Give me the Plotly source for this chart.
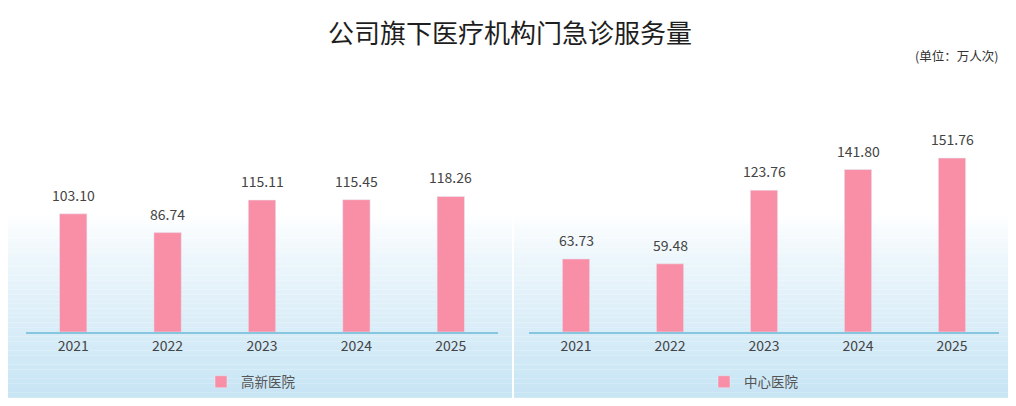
import plotly.graph_objects as go

# figure is drawn inside the page's 8px body margin
W, H = 1000, 390
OFF = 8

years = ['2021', '2022', '2023', '2024', '2025']
gaoxin = [103.10, 86.74, 115.11, 115.45, 118.26]
zhongxin = [63.73, 59.48, 123.76, 141.80, 151.76]

title = '公司旗下医疗机构门急诊服务量'
unit = '(单位：万人次)'

FONT = 'Noto Sans CJK SC, Microsoft YaHei, sans-serif'
BAR = '#f98fa7'
TXT = '#444444'


def px(x):
    return (x - OFF) / W


def py(y):
    return 1 - (y - OFF) / H


fig = go.Figure()

fig.add_trace(go.Bar(x=years, y=gaoxin, name='高新医院', marker_color=BAR,
                     width=0.29, xaxis='x', yaxis='y', legend='legend'))
fig.add_trace(go.Bar(x=years, y=zhongxin, name='中心医院', marker_color=BAR,
                     width=0.29, xaxis='x2', yaxis='y2', legend='legend2'))

# value labels above the bars (category index as x position)
annotations = []
for xr, yr, vals in [('x', 'y', gaoxin), ('x2', 'y2', zhongxin)]:
    for i, v in enumerate(vals):
        annotations.append(dict(x=i, y=v, xref=xr, yref=yr, text=f'{v:.2f}',
                                showarrow=False, yanchor='bottom', yshift=7,
                                font=dict(size=14, color=TXT, family=FONT)))

annotations.append(dict(x=px(510), y=py(31), xref='paper', yref='paper', text=title,
                        showarrow=False, xanchor='center', yanchor='middle',
                        font=dict(size=26, color='#1e1e1e', family=FONT)))
annotations.append(dict(x=px(1000), y=py(55), xref='paper', yref='paper', text=unit,
                        showarrow=False, xanchor='right', yanchor='middle',
                        font=dict(size=12.5, color='#333333', family=FONT)))

# light blue gradient panels behind the two charts
def lerp(c1, c2, t):
    return 'rgb(%d,%d,%d)' % tuple(round(a + (b - a) * t) for a, b in zip(c1, c2))

shapes = []
top_px, bot_px, n = 215, 402, 40
white = (255, 255, 255)
blue = (198, 228, 244)
for x0, x1 in [(8, 512), (514, 1012)]:
    for i in range(n):
        y0 = top_px + (bot_px - top_px) * i / n
        y1 = top_px + (bot_px - top_px) * (i + 1) / n
        t = ((i + 0.5) / n) ** 0.8
        shapes.append(dict(type='rect', xref='paper', yref='paper', layer='below',
                           x0=px(x0), x1=px(x1), y0=py(y1), y1=py(y0),
                           fillcolor=lerp(white, blue, t), line_width=0))

ydom = [py(332), py(120)]
xaxis_style = dict(type='category', range=[-0.5, 4.5], showline=True, linecolor='#86c6de',
                   linewidth=1.5, showgrid=False, ticks='',
                   tickfont=dict(size=14, color=TXT, family=FONT), fixedrange=True)
yaxis_style = dict(visible=False, range=[0, 185], showgrid=False, fixedrange=True)

legend_style = dict(orientation='h', xanchor='center', yanchor='middle', y=py(382),
                    bgcolor='rgba(0,0,0,0)', font=dict(size=13.5, color='#555555', family=FONT),
                    itemwidth=30)

fig.update_layout(
    width=W, height=H,
    margin=dict(l=0, r=0, t=0, b=0),
    paper_bgcolor='white', plot_bgcolor='rgba(0,0,0,0)',
    font=dict(family=FONT),
    xaxis=dict(domain=[px(26), px(498)], anchor='y', **xaxis_style),
    xaxis2=dict(domain=[px(529), px(999)], anchor='y2', **xaxis_style),
    yaxis=dict(domain=ydom, anchor='x', **yaxis_style),
    yaxis2=dict(domain=ydom, anchor='x2', **yaxis_style),
    legend=dict(x=px(251), **legend_style),
    legend2=dict(x=px(754), **legend_style),
    annotations=annotations,
    shapes=shapes,
    showlegend=True,
)

fig.write_html('out.html')
